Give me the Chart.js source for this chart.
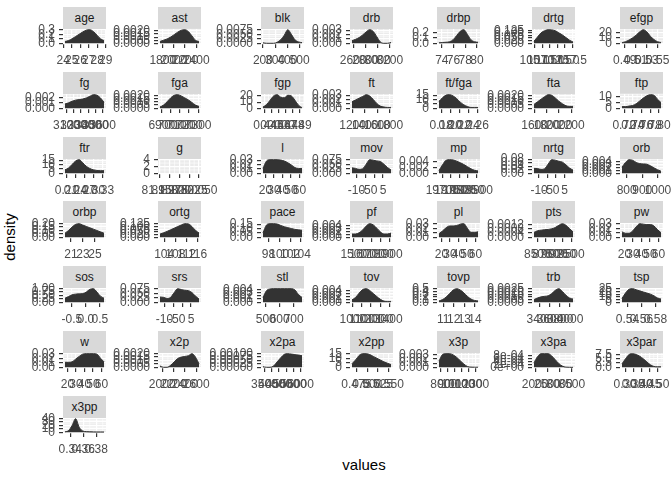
<!DOCTYPE html>
<html>
<head>
<meta charset="utf-8">
<script src="https://cdn.jsdelivr.net/npm/chart.js@4"></script>
<style>
  body { margin: 0; background: #fff; width: 672px; height: 480px; position: relative; overflow: hidden; font-family: "Liberation Sans", Arial, sans-serif; }
  .strip { position: absolute; background: #D9D9D9; color: #1A1A1A; font-size: 12px; text-align: center; }
  canvas { position: absolute; }
  .title { position: absolute; width: 60px; height: 18px; line-height: 18px; text-align: center; font-size: 15px; color: #000; }
</style>
</head>
<body>
<div class="title" style="left:334px; top:456px;">values</div>
<div class="title" style="left:-20px; top:228px; transform: rotate(-90deg);">density</div>
<script>
// one panel per variable, in facet order
const panelNames = ['age', 'ast', 'blk', 'drb', 'drbp', 'drtg', 'efgp',
  'fg', 'fga', 'fgp', 'ft', 'ft/fga', 'fta', 'ftp',
  'ftr', 'g', 'l', 'mov', 'mp', 'nrtg', 'orb',
  'orbp', 'ortg', 'pace', 'pf', 'pl', 'pts', 'pw',
  'sos', 'srs', 'stl', 'tov', 'tovp', 'trb', 'tsp',
  'w', 'x2p', 'x2pa', 'x2pp', 'x3p', 'x3pa', 'x3par',
  'x3pp'];

// observed range of each variable
const xLimits = [[24.2, 28.8], [1750, 2450], [200, 520], [2580, 3220], [73.5, 80.2], [104.8, 117.7], [0.485, 0.556],
  [3080, 3620], [6880, 7310], [0.437, 0.493], [1190, 1820], [0.175, 0.262], [1590, 2230], [0.715, 0.805],
  [0.205, 0.335], [82, 82], [17, 63], [-12.5, 9.5], [19680, 19910], [-13, 10], [770, 1020],
  [20, 26.5], [102.5, 116.5], [97.0, 104.2], [1480, 1920], [17, 63], [8400, 9550], [17, 63],
  [-0.75, 0.65], [-12.5, 9.5], [480, 760], [990, 1420], [10.6, 14.3], [3280, 4060], [0.532, 0.588],
  [17, 63], [1960, 2650], [3400, 6100], [0.465, 0.555], [780, 1330], [1950, 3550], [0.28, 0.52],
  [0.332, 0.392]];

const xTickLabels = [
  ['24', '25', '26', '27', '28', '29'], ['1800', '2000', '2200', '2400'], ['200', '300', '400', '500'],
  ['2600', '2800', '3000', '3200'], ['74', '76', '78', '80'], ['105.0', '107.5', '110.0', '112.5', '115.0', '117.5'],
  ['0.49', '0.51', '0.53', '0.55'],
  ['3100', '3200', '3300', '3400', '3500', '3600'], ['6900', '7000', '7100', '7200', '7300'],
  ['0.44', '0.45', '0.46', '0.47', '0.48', '0.49'], ['1200', '1400', '1600', '1800'],
  ['0.18', '0.20', '0.22', '0.24', '0.26'], ['1600', '1800', '2000', '2200'], ['0.72', '0.74', '0.76', '0.78', '0.80'],
  ['0.21', '0.24', '0.27', '0.30', '0.33'], ['81.950', '81.975', '82.000', '82.025', '82.050'],
  ['20', '30', '40', '50', '60'], ['-10', '-5', '0', '5'], ['19700', '19750', '19800', '19850', '19900'],
  ['-10', '-5', '0', '5'], ['800', '900', '1000'],
  ['21', '23', '25'], ['104', '108', '112', '116'], ['98', '100', '102', '104'],
  ['1500', '1600', '1700', '1800', '1900'], ['20', '30', '40', '50', '60'],
  ['8500', '8750', '9000', '9250', '9500'], ['20', '30', '40', '50', '60'],
  ['-0.5', '0.0', '0.5'], ['-10', '-5', '0', '5'], ['500', '600', '700'],
  ['1000', '1100', '1200', '1300', '1400'], ['11', '12', '13', '14'], ['3400', '3600', '3800', '4000'],
  ['0.54', '0.56', '0.58'],
  ['20', '30', '40', '50', '60'], ['2000', '2200', '2400', '2600'], ['3500', '4000', '4500', '5000', '5500', '6000'],
  ['0.475', '0.500', '0.525', '0.550'], ['800', '900', '1000', '1100', '1200', '1300'],
  ['2000', '2500', '3000', '3500'], ['0.30', '0.35', '0.40', '0.45', '0.50'],
  ['0.34', '0.36', '0.38']];

const yTickLabels = [
  ['0.0', '0.1', '0.2', '0.3'], ['0.0000', '0.0005', '0.0010', '0.0015', '0.0020'], ['0.0000', '0.0025', '0.0050', '0.0075'],
  ['0.000', '0.001', '0.002', '0.003'], ['0.0', '0.1', '0.2'], ['0.000', '0.025', '0.050', '0.075', '0.100', '0.125'],
  ['0', '10', '20'],
  ['0.000', '0.001', '0.002'], ['0.0000', '0.0005', '0.0010', '0.0015', '0.0020'], ['0', '10', '20'],
  ['0.000', '0.001', '0.002', '0.003'], ['0', '5', '10', '15'], ['0.0000', '0.0005', '0.0010', '0.0015', '0.0020'],
  ['0', '5', '10'],
  ['0', '5', '10', '15'], ['0', '2', '4'], ['0.00', '0.01', '0.02', '0.03'], ['0.000', '0.025', '0.050', '0.075'],
  ['0.000', '0.002', '0.004'], ['0.00', '0.02', '0.04', '0.06', '0.08'], ['0.000', '0.001', '0.002', '0.003', '0.004'],
  ['0.00', '0.05', '0.10', '0.15', '0.20'], ['0.000', '0.025', '0.050', '0.075', '0.100', '0.125'],
  ['0.00', '0.05', '0.10', '0.15'], ['0.000', '0.001', '0.002', '0.003', '0.004'], ['0.00', '0.01', '0.02', '0.03'],
  ['0.0000', '0.0004', '0.0008', '0.0012'], ['0.00', '0.01', '0.02', '0.03'],
  ['0.00', '0.25', '0.50', '0.75', '1.00'], ['0.000', '0.025', '0.050', '0.075'], ['0.000', '0.001', '0.002', '0.003', '0.004'],
  ['0.000', '0.001', '0.002', '0.003', '0.004'], ['0.0', '0.1', '0.2', '0.3', '0.4', '0.5'],
  ['0.0000', '0.0005', '0.0010', '0.0015', '0.0020', '0.0025'], ['0', '5', '10', '15', '20', '25'],
  ['0.00', '0.01', '0.02', '0.03'], ['0.0000', '0.0005', '0.0010', '0.0015', '0.0020'],
  ['0.00000', '0.00025', '0.00050', '0.00075', '0.00100'], ['0', '5', '10', '15'], ['0.000', '0.001', '0.002', '0.003'],
  ['0e+00', '2e-04', '4e-04', '6e-04', '8e-04'], ['0.0', '2.5', '5.0', '7.5'],
  ['0', '10', '20', '30', '40']];

// density read at evenly spaced points across each variable's range
const densities = [
  [0.04, 0.06, 0.1, 0.15, 0.2, 0.25, 0.29, 0.3, 0.26, 0.18, 0.1, 0.06],
  [0.0003, 0.0005, 0.0007, 0.001, 0.0014, 0.0018, 0.0021, 0.0022, 0.0019, 0.0012, 0.0005, 0.0003],
  [0.0003, 0, 0, 0, 0.0006, 0.002, 0.0045, 0.0076, 0.005, 0.002, 0.0008, 0.0004],
  [0.0006, 0.0009, 0.0013, 0.0019, 0.0026, 0.0031, 0.0027, 0.0015, 0.0003, 0, 0, 0.0002],
  [0.01, 0.015, 0.02, 0.03, 0.07, 0.15, 0.23, 0.26, 0.17, 0.07, 0.03, 0.02],
  [0.02, 0.06, 0.1, 0.12, 0.13, 0.128, 0.12, 0.1, 0.08, 0.055, 0.03, 0.012],
  [1, 3, 6, 10, 15, 21, 25, 21, 13, 7, 3, 1.5],
  [0.0008, 0.001, 0.0013, 0.0015, 0.0016, 0.0017, 0.0019, 0.0022, 0.0025, 0.0024, 0.0019, 0.0011],
  [0.0002, 0.0005, 0.001, 0.0016, 0.002, 0.0021, 0.0019, 0.0016, 0.0013, 0.0009, 0.0005, 0.0003],
  [2, 6, 13, 20, 22, 18, 17, 21, 20, 13, 5, 1],
  [0.0015, 0.0019, 0.0023, 0.0027, 0.0031, 0.0028, 0.002, 0.0011, 0.0005, 0.0003, 0.0002, 0.0002],
  [8, 12, 15, 15.5, 14, 11, 7, 4, 2, 1, 1, 1],
  [0.0006, 0.001, 0.0014, 0.0018, 0.0021, 0.002, 0.0016, 0.0011, 0.0007, 0.0004, 0.0003, 0.0003],
  [1.5, 1.5, 2, 2.5, 4, 6.5, 9, 11, 12, 11.5, 8, 5],
  [4, 6, 10, 14, 15.5, 12, 8, 5.5, 4, 3.2, 3, 3],
  [],
  [0.011, 0.028, 0.031, 0.031, 0.031, 0.03, 0.028, 0.024, 0.019, 0.013, 0.011, 0.011],
  [0.03, 0.027, 0.022, 0.025, 0.05, 0.075, 0.072, 0.068, 0.065, 0.05, 0.032, 0.018],
  [0.0009, 0.0028, 0.0043, 0.0045, 0.0044, 0.004, 0.0035, 0.0029, 0.0022, 0.0015, 0.001, 0.0008],
  [0.028, 0.027, 0.022, 0.026, 0.052, 0.077, 0.074, 0.068, 0.063, 0.048, 0.03, 0.018],
  [0.002, 0.0036, 0.0045, 0.0043, 0.0036, 0.0032, 0.0031, 0.003, 0.0025, 0.0018, 0.0012, 0.0007],
  [0.06, 0.1, 0.15, 0.19, 0.2, 0.18, 0.16, 0.14, 0.12, 0.1, 0.08, 0.06],
  [0.03, 0.042, 0.055, 0.07, 0.085, 0.1, 0.115, 0.127, 0.125, 0.1, 0.065, 0.04],
  [0.05, 0.14, 0.155, 0.155, 0.15, 0.135, 0.12, 0.11, 0.1, 0.09, 0.085, 0.08],
  [0.0011, 0.0011, 0.0015, 0.0024, 0.0037, 0.0045, 0.0041, 0.003, 0.0018, 0.0011, 0.0011, 0.0014],
  [0.008, 0.014, 0.021, 0.025, 0.025, 0.026, 0.029, 0.03, 0.02, 0.011, 0.011, 0.012],
  [0.00045, 0.0006, 0.00065, 0.0007, 0.00072, 0.00078, 0.0009, 0.0011, 0.00125, 0.0011, 0.0008, 0.0005],
  [0.012, 0.009, 0.009, 0.014, 0.023, 0.03, 0.029, 0.028, 0.028, 0.025, 0.017, 0.01],
  [0.3, 0.42, 0.55, 0.6, 0.62, 0.64, 0.75, 0.95, 1.0, 0.75, 0.45, 0.3],
  [0.03, 0.028, 0.022, 0.028, 0.055, 0.077, 0.072, 0.068, 0.066, 0.055, 0.035, 0.018],
  [0.0015, 0.0036, 0.0041, 0.0042, 0.0042, 0.0042, 0.0042, 0.0042, 0.0042, 0.0038, 0.0024, 0.0015],
  [0.0008, 0.0016, 0.003, 0.0042, 0.0045, 0.0039, 0.0029, 0.0019, 0.001, 0.0004, 0.0003, 0.0003],
  [0.05, 0.1, 0.19, 0.32, 0.45, 0.5, 0.45, 0.35, 0.22, 0.12, 0.07, 0.05],
  [0.0005, 0.0008, 0.001, 0.0011, 0.0012, 0.0016, 0.0022, 0.0025, 0.002, 0.0013, 0.0008, 0.0006],
  [7, 17, 24, 25, 23, 21, 19, 17, 15, 12, 8, 6],
  [0.011, 0.011, 0.012, 0.018, 0.024, 0.029, 0.03, 0.03, 0.03, 0.029, 0.02, 0.012],
  [0.0002, 0, 0, 0.0003, 0.0008, 0.0013, 0.0015, 0.0016, 0.0017, 0.002, 0.0015, 0.0005],
  [0.00005, 0, 0, 0.0001, 0.0004, 0.0007, 0.00095, 0.001, 0.00097, 0.00093, 0.0009, 0.00085],
  [4, 8, 13, 15, 15, 14, 12, 10, 8, 6, 4.5, 3],
  [0.0015, 0.0031, 0.0033, 0.0033, 0.003, 0.0024, 0.0016, 0.0008, 0.0002, 0.00005, 0.00002, 0.00002],
  [0.0003, 0.0007, 0.0009, 0.0009, 0.0009, 0.00075, 0.0005, 0.00025, 0.00008, 0.00001, 0, 0],
  [2, 5, 7.5, 8, 7.5, 6.5, 5, 3.2, 1.5, 0.5, 0.3, 0.3],
  [1.5, 5, 20, 40, 15, 4, 2, 1.5, 1.2, 1, 1, 1]];

// layout of the facet grid
const colLeft = [63, 158, 261, 350, 437, 532, 620];
const rowTop = [7, 72, 137, 201, 266, 331, 396];
const PANEL_W = 43, PANEL_H = 15, STRIP_H = 22;
const Y_W = 60, X_H = 26, PAD_T = 8, PAD_R = 30;

Chart.defaults.font.family = '"Liberation Sans", Arial, sans-serif';

// grey panel background plus the thin minor grid lines
const panelGrid = {
  id: 'panelGrid',
  beforeDraw(chart) {
    const { ctx, chartArea: a, scales } = chart;
    ctx.save();
    ctx.fillStyle = '#EBEBEB';
    ctx.fillRect(a.left, a.top, a.right - a.left, a.bottom - a.top);
    ctx.strokeStyle = '#FFFFFF';
    ctx.lineWidth = 0.6;
    for (const id of ['x', 'y']) {
      const s = scales[id];
      const v = s.ticks.map(t => t.value);
      if (v.length < 2) continue;
      const step = v[1] - v[0];
      const mids = [v[0] - step / 2, ...v.slice(1).map((t, k) => (t + v[k]) / 2), v[v.length - 1] + step / 2];
      mids.filter(m => m > s.min && m < s.max).forEach(m => {
        const p = s.getPixelForValue(m);
        ctx.beginPath();
        if (id === 'x') { ctx.moveTo(p, a.top); ctx.lineTo(p, a.bottom); }
        else { ctx.moveTo(a.left, p); ctx.lineTo(a.right, p); }
        ctx.stroke();
      });
    }
    ctx.restore();
  }
};

function axisStyle(labels, fit) {
  return {
    afterBuildTicks: s => { s.ticks = labels.map(l => ({ value: Number(l) })); },
    afterFit: fit,
    ticks: {
      autoSkip: false, maxRotation: 0, minRotation: 0,
      color: '#4D4D4D', font: { size: 12 },
      callback: (v, k) => labels[k],
    },
    grid: { color: '#FFFFFF', lineWidth: 1.2, tickColor: '#333333', tickLength: 4 },
    border: { display: false },
  };
}

panelNames.forEach((name, i) => {
  const row = Math.floor(i / 7), col = i % 7;
  const left = colLeft[col], top = rowTop[row];

  const strip = document.createElement('div');
  strip.className = 'strip';
  strip.style.left = left + 'px';
  strip.style.top = top + 'px';
  strip.style.width = PANEL_W + 'px';
  strip.style.height = STRIP_H + 'px';
  strip.style.lineHeight = STRIP_H + 'px';
  strip.textContent = name;
  document.body.appendChild(strip);

  const cv = document.createElement('canvas');
  cv.width = Y_W + PANEL_W + PAD_R;
  cv.height = PAD_T + PANEL_H + X_H;
  cv.style.left = (left - Y_W) + 'px';
  cv.style.top = (top + STRIP_H - PAD_T) + 'px';
  document.body.appendChild(cv);

  let [lo, hi] = xLimits[i];
  if (lo === hi) { lo -= 0.05; hi += 0.05; }
  const xmin = lo - 0.05 * (hi - lo), xmax = hi + 0.05 * (hi - lo);
  const dens = densities[i];
  const pts = dens.map((d, k) => ({ x: lo + k * (hi - lo) / (dens.length - 1), y: d }));
  const yTop = dens.length ? Math.max(...dens) : Math.max(...yTickLabels[i].map(Number));
  const ymin = -0.05 * yTop, ymax = 1.05 * yTop;

  const xl = xTickLabels[i].filter(l => Number(l) >= xmin && Number(l) <= xmax);
  const yl = yTickLabels[i].filter(l => Number(l) >= ymin && Number(l) <= ymax);

  const xAxis = axisStyle(xl, s => { s.height = X_H; s.paddingLeft = 0; s.paddingRight = 0; });
  xAxis.ticks.padding = 5;
  const yAxis = axisStyle(yl, s => { s.width = Y_W; s.paddingTop = 0; s.paddingBottom = 0; });
  yAxis.ticks.padding = 4;

  new Chart(cv, {
    type: 'line',
    data: {
      datasets: [{
        data: pts,
        fill: 'origin',
        backgroundColor: '#333333',
        borderColor: '#333333',
        borderWidth: 1,
        pointRadius: 0,
        cubicInterpolationMode: 'monotone',
      }],
    },
    options: {
      responsive: false,
      animation: false,
      devicePixelRatio: 1,
      layout: { padding: { left: 0, top: PAD_T, right: PAD_R, bottom: 0 } },
      plugins: { legend: { display: false }, tooltip: { enabled: false } },
      scales: {
        x: Object.assign({ type: 'linear', min: xmin, max: xmax }, xAxis),
        y: Object.assign({ type: 'linear', min: ymin, max: ymax }, yAxis),
      },
    },
    plugins: [panelGrid],
  });
});
</script>
</body>
</html>
